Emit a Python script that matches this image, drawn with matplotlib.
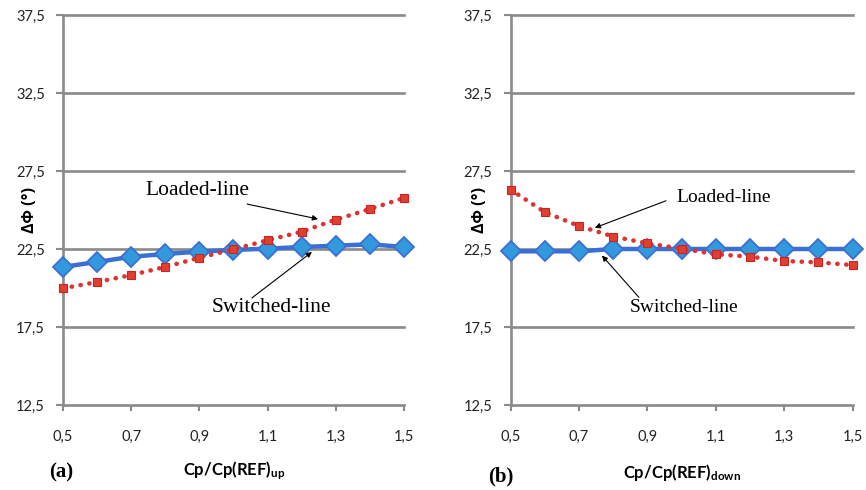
import numpy as np
import matplotlib.pyplot as plt

plt.rcParams['font.family'] = ['Lato', 'DejaVu Sans']
plt.rcParams['mathtext.fontset'] = 'custom'
plt.rcParams['mathtext.rm'] = 'Lato'
plt.rcParams['mathtext.bf'] = 'Lato:bold'

# data
cp = [0.5, 0.6, 0.7, 0.8, 0.9, 1.0, 1.1, 1.2, 1.3, 1.4, 1.5]
switched_up = [21.35, 21.67, 22.0, 22.18, 22.33, 22.44, 22.52, 22.63, 22.71, 22.8, 22.63]
loaded_up = [19.98, 20.38, 20.83, 21.35, 21.94, 22.48, 23.06, 23.61, 24.38, 25.06, 25.77]
switched_down = [22.35, 22.35, 22.35, 22.5, 22.5, 22.5, 22.5, 22.5, 22.5, 22.5, 22.5]
loaded_down = [26.3, 24.86, 23.97, 23.3, 22.86, 22.52, 22.16, 22.01, 21.73, 21.64, 21.47]

yticks = [12.5, 17.5, 22.5, 27.5, 32.5, 37.5]
xticks = [0.5, 0.7, 0.9, 1.1, 1.3, 1.5]

GRAY = '#8a8a8a'
BLUE = '#3a6fd6'
RED = '#dd3333'

fig = plt.figure(figsize=(8.66, 4.9), dpi=100)
ax1 = fig.add_axes([0.0727, 0.1735, 0.3938, 0.7959])
ax2 = fig.add_axes([0.5897, 0.1735, 0.3949, 0.7959])


def style_axes(ax):
    ax.set_xlim(0.5, 1.5)
    ax.set_ylim(12.5, 37.5)
    ax.set_yticks(yticks)
    ax.set_yticklabels([str(v).replace('.', ',') for v in yticks])
    ax.set_xticks(xticks)
    ax.set_xticklabels([str(v).replace('.', ',') for v in xticks])
    for t in yticks[1:]:
        ax.axhline(t, color=GRAY, lw=1.9, zorder=1, clip_on=False)
    for s in ['top', 'right']:
        ax.spines[s].set_visible(False)
    for s in ['left', 'bottom']:
        ax.spines[s].set_color(GRAY)
        ax.spines[s].set_linewidth(1.9)
    ax.tick_params(axis='y', length=5, width=1.5, color=GRAY, pad=8,
                   labelsize=10.5, labelcolor='#222222')
    ax.tick_params(axis='x', length=4, width=1.5, color=GRAY, pad=14,
                   labelsize=10.5, labelcolor='#222222')


def draw_series(ax, sw, ld):
    ax.plot(cp, sw, color=BLUE, lw=3.2, marker='D', ms=10,
            mfc='#3399dd', mec=BLUE, mew=1.3, zorder=3, clip_on=False)
    ax.plot(cp, ld, color=RED, lw=3.3, ls=(0, (0.05, 1.9)), dash_capstyle='round',
            marker='s', ms=6, mfc='#e04030', mec='#cc2222', mew=0.8,
            zorder=4, clip_on=False)


def arrow(ax, start, end):
    ax.annotate('', xy=end, xytext=start,
                arrowprops=dict(arrowstyle='-|>', lw=0.8, color='black',
                                mutation_scale=8, shrinkA=0, shrinkB=0),
                zorder=6)


style_axes(ax1)
style_axes(ax2)
draw_series(ax1, switched_up, loaded_up)
draw_series(ax2, switched_down, loaded_down)

# annotations panel (a)
ax1.text(0.893, 26.28, 'Loaded-line', family='Liberation Serif', fontsize=15.5,
         ha='center', va='center', zorder=6)
arrow(ax1, (1.04, 25.38), (1.248, 24.42))
ax1.text(1.111, 18.78, 'Switched-line', family='Liberation Serif', fontsize=15.5,
         ha='center', va='center', zorder=6)
arrow(ax1, (1.054, 19.36), (1.230, 22.31))

# annotations panel (b)
ax2.text(1.122, 25.78, 'Loaded-line', family='Liberation Serif', fontsize=14,
         ha='center', va='center', zorder=6)
arrow(ax2, (0.954, 25.59), (0.746, 23.86))
ax2.text(1.007, 18.76, 'Switched-line', family='Liberation Serif', fontsize=14,
         ha='center', va='center', zorder=6)
arrow(ax2, (0.875, 19.40), (0.767, 22.08))

# axis labels
for x in [30 / 866, 480 / 866]:
    fig.text(x, 1 - 210 / 490, 'ΔΦ (°)', rotation=90, ha='center', va='center',
             fontsize=11.5, fontweight='bold', family=['Open Sans', 'DejaVu Sans'])
fig.text(234 / 866, 1 - 471 / 490, r'$\mathbf{Cp/Cp(REF)_{up}}$', ha='center',
         va='center', fontsize=12)
fig.text(682 / 866, 1 - 472 / 490, r'$\mathbf{Cp/Cp(REF)_{down}}$', ha='center',
         va='center', fontsize=12)
fig.text(61 / 866, 1 - 472 / 490, '(a)', ha='center', va='center', fontsize=15,
         fontweight='bold', family='Liberation Serif')
fig.text(501 / 866, 1 - 476 / 490, '(b)', ha='center', va='center', fontsize=15,
         fontweight='bold', family='Liberation Serif')

fig.savefig('out.png', dpi=100)
